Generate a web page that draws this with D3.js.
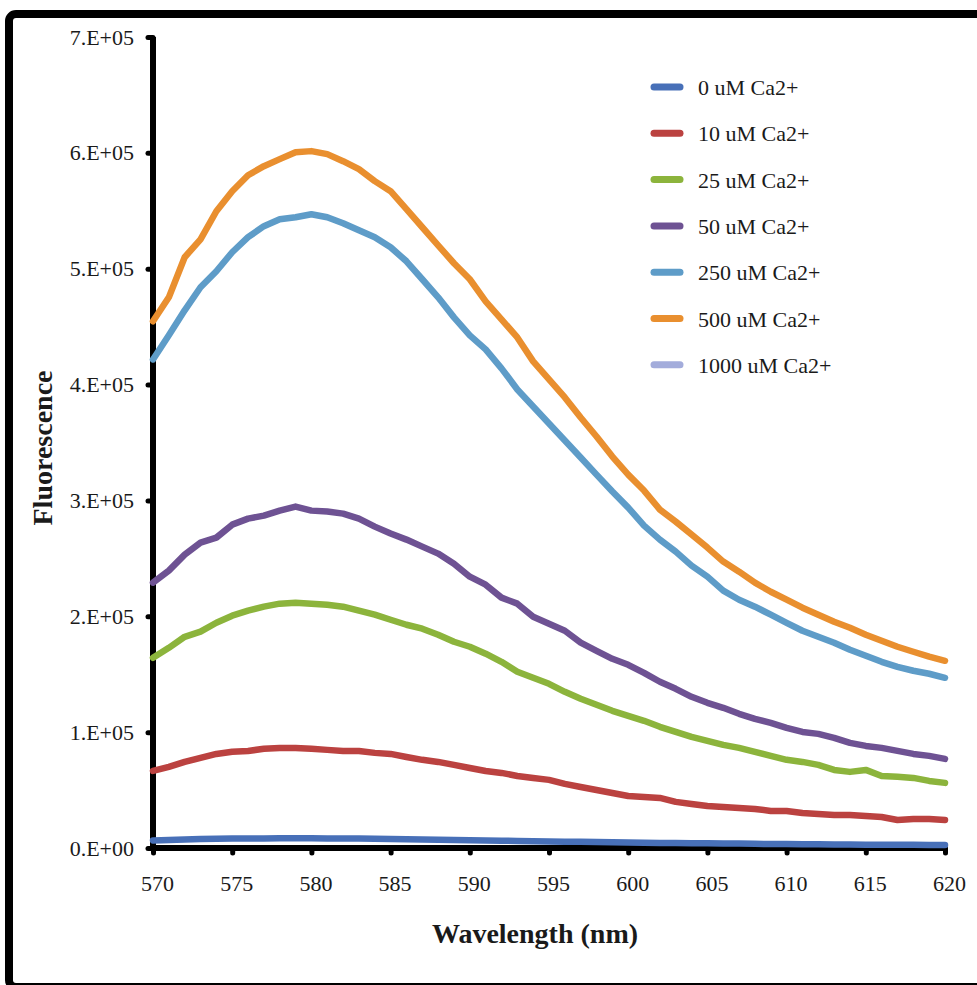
<!DOCTYPE html>
<html>
<head>
<meta charset="utf-8">
<script src="https://cdn.jsdelivr.net/npm/d3@7"></script>
<style>
  html, body { margin: 0; padding: 0; background: #ffffff; }
  svg { display: block; }
  text { font-family: "Liberation Serif", "Times New Roman", serif; fill: #1a1a1a; }
</style>
</head>
<body>
<script>
// ---------- DATA ----------
const wavelengths = [570,571,572,573,574,575,576,577,578,579,580,581,582,583,584,585,586,587,588,589,
  590,591,592,593,594,595,596,597,598,599,600,601,602,603,604,605,606,607,608,609,
  610,611,612,613,614,615,616,617,618,619,620];

const seriesNames = ["0 uM Ca2+","10 uM Ca2+","25 uM Ca2+","50 uM Ca2+","250 uM Ca2+","500 uM Ca2+","1000 uM Ca2+"];
const seriesColors = ["#4870b8","#bb4240","#8cb43c","#6e5293","#5e9cc8","#e98f2f","#a3acdb"];

const s0 = [6500,7000,7400,7700,7900,8100,8200,8300,8400,8400,
  8400,8300,8300,8100,7900,7800,7600,7400,7200,7000,
  6700,6500,6300,6100,5900,5700,5500,5300,5100,4900,
  4700,4600,4400,4300,4100,4000,3900,3800,3600,3500,
  3400,3300,3200,3100,3000,2900,2900,2800,2700,2600,2600];
const s10 = [66500,70000,74300,77800,81200,83000,83800,85600,86400,86400,
  85600,84700,83800,83800,82100,81200,78600,76100,74300,71700,
  69100,66500,64800,62200,60500,58800,55300,52700,50100,47500,
  44900,44100,43200,39800,38000,36300,35400,34600,33700,32000,
  32000,30200,29400,28500,28500,27700,26800,24200,25100,25100,24200];
const s25 = [164200,172800,182300,186700,194400,200500,204800,208300,210900,211700,
  210900,210000,208300,204800,201400,197000,192700,189300,184100,178000,
  173700,167700,160700,152100,146900,141700,134800,128800,123600,118400,
  114100,109800,104600,100200,95900,92500,89000,86400,83000,79500,
  76100,74300,71700,67400,65700,67400,62200,61400,60500,57900,56200];
const s50 = [229000,239400,253200,263600,267900,279100,284300,286900,291200,294700,
  291200,290400,288600,284300,277400,271400,266200,260100,254100,245400,
  234200,227300,216100,210900,199600,193600,187500,177200,170200,163300,
  158100,151200,143500,137400,130500,125300,121000,115800,111500,108000,
  103700,100200,98500,95100,90700,88100,86400,83800,81200,79500,76900];
const s250 = [421700,442500,464100,484000,497800,514200,527200,536700,542700,544400,
  547000,544400,539300,533200,527200,518500,506400,490900,475300,458000,
  442500,430400,414000,395800,381100,366400,351700,337000,322300,307700,
  293800,278300,266200,255800,243700,234200,222100,214300,208300,201400,
  194400,187500,182300,177200,171100,165900,160700,156400,153000,150400,146900];
const s500 = [454600,475300,509900,525400,549600,566900,580700,588500,594600,600600,
  601500,598900,592800,585900,575600,566900,551400,535800,520200,504700,
  490900,471800,456300,440700,420000,404400,388900,371600,355200,337900,
  322300,308500,292100,281700,270500,259300,247200,238500,229000,221200,
  214300,207400,201400,195300,190100,184100,178900,173700,169400,165100,161600];
const s1000 = []; // listed in the legend, no visible curve

const seriesValues = [s0, s10, s25, s50, s250, s500, s1000];

const xTicks = [570,575,580,585,590,595,600,605,610,615,620];
const yTicks = [0,100000,200000,300000,400000,500000,600000,700000];
const yTickLabels = ["0.E+00","1.E+05","2.E+05","3.E+05","4.E+05","5.E+05","6.E+05","7.E+05"];

const xTitle = "Wavelength (nm)";
const yTitle = "Fluorescence";

// ---------- DRAW ----------
const W = 977, H = 985;
const svg = d3.select("body").append("svg").attr("width", W).attr("height", H);

svg.append("rect").attr("width", W).attr("height", H).attr("fill", "#ffffff");

// outer frame (cut at right and bottom)
svg.append("rect")
  .attr("x", 9).attr("y", 14).attr("width", 1010).attr("height", 973)
  .attr("rx", 7).attr("ry", 7)
  .attr("fill", "none").attr("stroke", "#000").attr("stroke-width", 8);

const x = d3.scaleLinear().domain([570, 620]).range([153, 945]);
const y = d3.scaleLinear().domain([0, 700000]).range([848, 37]);

// y axis
const yAxis = d3.axisLeft(y).tickValues(yTicks).tickSize(5).tickPadding(14)
  .tickFormat((d, i) => yTickLabels[i]);
const gy = svg.append("g").attr("transform", `translate(${x(570)},0)`).call(yAxis);
gy.select(".domain").attr("stroke", "#000").attr("stroke-width", 6).attr("d", `M0,${y(700000)}V${y(0)}`);
gy.selectAll(".tick line").attr("stroke", "#000").attr("stroke-width", 5).attr("stroke-linecap", "round");
gy.selectAll(".tick text").attr("font-size", 22).attr("font-family", "Liberation Serif").attr("fill", "#1a1a1a");

// x axis
const xAxis = d3.axisBottom(x).tickValues(xTicks).tickSize(5).tickPadding(22)
  .tickFormat(d3.format("d"));
const gx = svg.append("g").attr("transform", `translate(0,${y(0)})`).call(xAxis);
gx.select(".domain").attr("stroke", "#000").attr("stroke-width", 6).attr("d", `M${x(570)},0H${x(620)}`);
gx.selectAll(".tick line").attr("stroke", "#000").attr("stroke-width", 5).attr("stroke-linecap", "round");
gx.selectAll(".tick text").attr("font-size", 22).attr("font-family", "Liberation Serif").attr("fill", "#1a1a1a").attr("dx", 4);

// series lines
const line = d3.line().x((d, i) => x(wavelengths[i])).y(d => y(d));
seriesValues.forEach((vals, k) => {
  if (!vals.length) return;
  svg.append("path")
    .attr("d", line(vals))
    .attr("fill", "none")
    .attr("stroke", seriesColors[k])
    .attr("stroke-width", 6.5)
    .attr("stroke-linejoin", "round")
    .attr("stroke-linecap", "round");
});

// axis titles
svg.append("text")
  .attr("x", 535).attr("y", 943)
  .attr("text-anchor", "middle")
  .attr("font-size", 28).attr("font-weight", "bold")
  .text(xTitle);
svg.append("text")
  .attr("transform", "translate(52,448) rotate(-90)")
  .attr("text-anchor", "middle")
  .attr("font-size", 28).attr("font-weight", "bold")
  .text(yTitle);

// legend
const legend = svg.append("g");
seriesNames.forEach((name, k) => {
  const cy = 87 + k * 46.3;
  legend.append("line")
    .attr("x1", 654).attr("x2", 680).attr("y1", cy).attr("y2", cy)
    .attr("stroke", seriesColors[k]).attr("stroke-width", 7).attr("stroke-linecap", "round");
  legend.append("text")
    .attr("x", 698).attr("y", cy + 8)
    .attr("font-size", 22)
    .text(name);
});
</script>
</body>
</html>
